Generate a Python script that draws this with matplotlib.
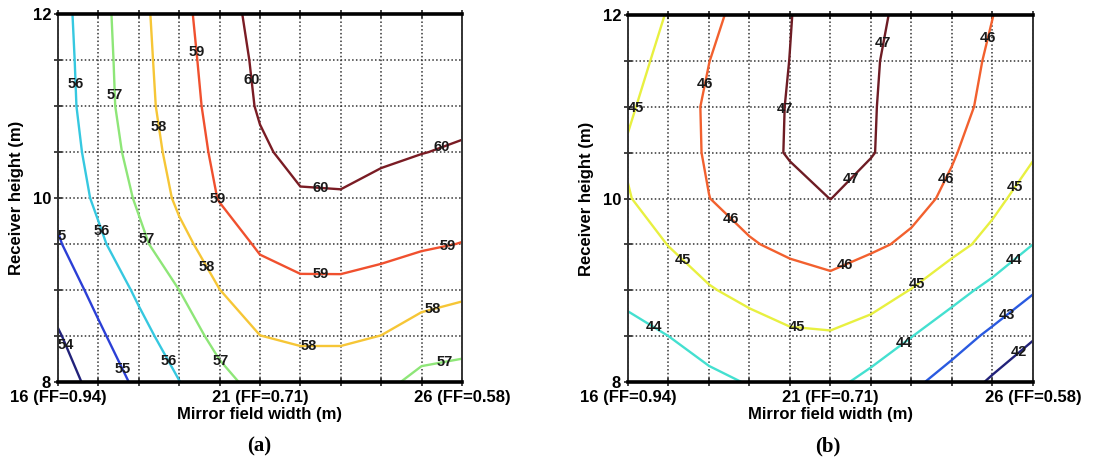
import numpy as np
import matplotlib
matplotlib.use("Agg")
import matplotlib.pyplot as plt
from matplotlib.ticker import MultipleLocator, FixedLocator

# Grid: mirror field width (m) and receiver height (m)
width_m = [16, 17, 18, 19, 20, 21, 22, 23, 24, 25, 26]
height_m = [8.0, 8.5, 9.0, 9.5, 10.0, 10.5, 11.0, 11.5, 12.0]
xtick_labels = ["16 (FF=0.94)", "21 (FF=0.71)", "26 (FF=0.58)"]

# (a) values, one row per receiver height
za_8_0 = [53.5, 54.36, 55.21, 55.98, 56.73, 57.3, 57.46, 57.46, 57.28, 56.7, 56.59]
za_8_5 = [53.91, 54.83, 55.68, 56.5, 57.29, 57.99, 58.15, 58.15, 57.99, 57.57, 57.4]
za_9_0 = [54.43, 55.3, 56.17, 57.0, 57.99, 58.6, 58.8, 58.8, 58.67, 58.4, 58.2]
za_9_5 = [54.91, 55.81, 56.76, 57.71, 58.52, 59.12, 59.37, 59.38, 59.25, 59.11, 58.98]
za_10_0 = [55.26, 56.19, 57.14, 58.19, 59.05, 59.48, 59.9, 59.93, 59.72, 59.56, 59.45]
za_10_5 = [55.4, 56.41, 57.42, 58.4, 59.23, 59.85, 60.3, 60.3, 60.15, 60.02, 59.91]
za_11_0 = [55.52, 56.57, 57.6, 58.55, 59.36, 60.1, 60.55, 60.55, 60.4, 60.3, 60.25]
za_11_5 = [55.57, 56.61, 57.65, 58.64, 59.44, 60.2, 60.7, 60.7, 60.55, 60.45, 60.4]
za_12_0 = [55.63, 56.66, 57.71, 58.72, 59.55, 60.35, 60.8, 60.8, 60.65, 60.55, 60.5]
levels_a = [54, 55, 56, 57, 58, 59, 60]
colors_a = ["#22227a", "#2b3fd6", "#36c8e0", "#8ee678", "#f6c636", "#f0502e", "#7a1c24"]

# (b)
zb_8_0 = [43.4, 43.6, 43.8, 44.05, 44.2, 44.25, 43.72, 43.2, 42.6, 41.85, 41.1]
zb_8_5 = [43.8, 44.0, 44.37, 44.6, 44.85, 44.9, 44.6, 44.02, 43.43, 42.8, 42.1]
zb_9_0 = [44.17, 44.55, 44.93, 45.26, 45.58, 45.71, 45.44, 44.97, 44.33, 43.73, 43.09]
zb_9_5 = [44.55, 45.02, 45.48, 45.93, 46.19, 46.4, 46.14, 45.85, 45.29, 44.7, 44.0]
zb_10_0 = [44.95, 45.48, 45.99, 46.33, 46.66, 47.01, 46.63, 46.26, 45.83, 45.25, 44.56]
zb_10_5 = [45.1, 45.6, 46.09, 46.59, 47.08, 47.3, 47.05, 46.56, 46.07, 45.56, 45.1]
zb_11_0 = [44.87, 45.52, 46.13, 46.6, 47.06, 47.4, 47.06, 46.65, 46.24, 45.8, 45.35]
zb_11_5 = [44.62, 45.31, 45.99, 46.5, 47.01, 47.45, 47.09, 46.69, 46.3, 45.9, 45.5]
zb_12_0 = [44.33, 45.07, 45.74, 46.41, 46.97, 47.5, 47.17, 46.78, 46.4, 46.01, 45.6]
levels_b = [42, 43, 44, 45, 46, 47]
colors_b = ["#22227a", "#2a5ae0", "#44e0d0", "#e8f040", "#f2602e", "#6e1c24"]

# where the contour labels sit
label_pos_a = [(16.45, 11.24), (17.41, 11.12), (18.5, 10.77), (19.37, 11.59), (20.8, 11.28),
               (25.52, 10.51), (22.49, 10.07), (19.94, 9.98), (17.14, 9.65), (18.22, 9.56),
               (16.1, 9.6), (16.17, 8.4), (17.62, 8.15), (18.67, 8.21), (19.97, 8.2),
               (19.66, 9.25), (22.2, 8.38), (22.5, 9.15), (25.66, 9.44), (25.29, 8.76),
               (25.58, 8.2)]
label_pos_b = [(16.16, 10.99), (17.85, 11.25), (19.87, 10.98), (22.31, 11.69), (24.9, 11.75),
               (21.52, 10.2), (23.87, 10.21), (25.59, 10.11), (18.5, 9.76), (17.32, 9.31),
               (21.4, 9.24), (23.13, 9.07), (20.18, 8.6), (16.58, 8.55), (22.92, 8.36),
               (25.56, 9.31), (25.36, 8.73), (25.65, 8.33)]

za = np.array([za_8_0, za_8_5, za_9_0, za_9_5, za_10_0, za_10_5, za_11_0, za_11_5, za_12_0])
zb = np.array([zb_8_0, zb_8_5, zb_9_0, zb_9_5, zb_10_0, zb_10_5, zb_11_0, zb_11_5, zb_12_0])

plt.rcParams["font.family"] = ["Liberation Sans", "DejaVu Sans"]
plt.rcParams["font.weight"] = "bold"

fig = plt.figure(figsize=(11.19, 4.69), dpi=100)
ax_a = fig.add_axes([0.0518, 0.1855, 0.361, 0.7846])
ax_b = fig.add_axes([0.5612, 0.1855, 0.3619, 0.7825])


def draw_panel(ax, z, levels, colors, label_pos, tag, tag_x):
    X, Y = np.meshgrid(width_m, height_m)
    cs = ax.contour(X, Y, z, levels=levels, colors=colors, linewidths=1.7)
    texts = ax.clabel(cs, fmt="%d", fontsize=10.5, colors="#1a1a1a", inline=False,
                      manual=label_pos)
    for t in texts:
        t.set_rotation(0)
        t.set_fontweight("bold")
    ax.set_xlim(16, 26)
    ax.set_ylim(8, 12)
    ax.xaxis.set_major_locator(FixedLocator([16, 21, 26]))
    ax.set_xticklabels(xtick_labels, fontsize=12, fontweight="bold")
    ax.xaxis.set_minor_locator(MultipleLocator(1))
    ax.yaxis.set_major_locator(FixedLocator([8, 10, 12]))
    ax.set_yticklabels(["8", "10", "12"], fontsize=12, fontweight="bold")
    ax.yaxis.set_minor_locator(MultipleLocator(0.5))
    ax.grid(True, which="both", color="#333333", linestyle=(0, (1, 1.5)), linewidth=1.1)
    ax.tick_params(which="both", direction="inout", length=6, width=1.2, top=True,
                   pad=2, colors="#222222")
    ax.tick_params(axis="x", labelcolor="black", pad=3)
    ax.tick_params(axis="y", labelcolor="black")
    for side in ["top", "bottom"]:
        ax.spines[side].set_linewidth(2.6)
        ax.spines[side].set_color("black")
    for side in ["left", "right"]:
        ax.spines[side].set_linewidth(1.4)
        ax.spines[side].set_color("#333333")
    ax.set_xlabel("Mirror field width (m)", fontsize=12, fontweight="bold", labelpad=1)
    ax.set_ylabel("Receiver height (m)", fontsize=12, fontweight="bold", labelpad=6)
    fig.text(tag_x, 0.047, tag, fontsize=15, fontweight="bold",
             family=["Liberation Serif", "DejaVu Serif"], ha="center", va="center")


draw_panel(ax_a, za, levels_a, colors_a, label_pos_a, "(a)", 0.232)
draw_panel(ax_b, zb, levels_b, colors_b, label_pos_b, "(b)", 0.74)

fig.savefig("out.png", dpi=100)
